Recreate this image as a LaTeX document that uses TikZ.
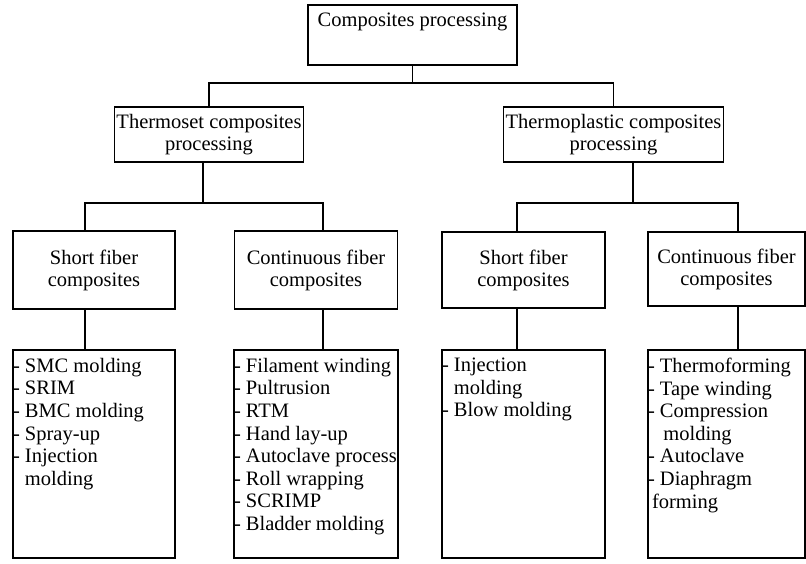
\documentclass[tikz,border=0pt]{standalone}
\usepackage{fontspec}
\setmainfont{Liberation Serif}
\usetikzlibrary{positioning}

\begin{document}
\begin{tikzpicture}[x=1pt,y=-1pt,line width=1.1pt,
	box/.style={draw,align=center,inner sep=2pt,font=\fontsize{20.5}{22}\selectfont},
	items/.style={align=left,inner sep=0pt,anchor=north west,font=\fontsize{20.5}{22.6}\selectfont}]

	\useasboundingbox (0,0) rectangle (806,563);

	% top levels
	\node[box,minimum width=209pt,minimum height=60pt] (root) at (412.5,35) {Composites processing\\[8pt] \mbox{}};
	\node[box,minimum width=188pt,minimum height=55pt] (thermoset) at (209,134.5) {Thermoset composites\\processing};
	\node[box,minimum width=193pt,minimum height=55pt] (thermoplastic) at (613.5,134.5) {Thermoplastic composites\\processing};

	\coordinate (topbar) at (412.5,83);
	\draw (root.south) -- (topbar);
	\draw (thermoset.north) |- (topbar) -| (thermoplastic.north);

	% fiber types
	\node[box,minimum width=162pt,minimum height=78pt] (tsshort) at (94,270) {Short fiber\\composites};
	\node[box,minimum width=163pt,minimum height=78pt] (tscont) at (316,270) {Continuous fiber\\composites};
	\node[box,minimum width=163pt,minimum height=76pt] (tpshort) at (523.5,270) {Short fiber\\composites};
	\node[box,minimum width=157pt,minimum height=74pt] (tpcont) at (726.5,269) {Continuous fiber\\composites};

	\coordinate (tsbar) at (203,203);
	\coordinate (tpbar) at (633,203);
	\draw ([xshift=-6pt]thermoset.south) -- (tsbar);
	\draw ([xshift=-9pt]tsshort.north) |- (tsbar) -| ([xshift=7pt]tscont.north);
	\draw ([xshift=19.5pt]thermoplastic.south) -- (tpbar);
	\draw ([xshift=-6.5pt]tpshort.north) |- (tpbar) -| ([xshift=11.5pt]tpcont.north);

	% process lists
	\node[draw,minimum width=162pt,minimum height=208pt] (tsshortlist) at (94,454) {};
	\node[draw,minimum width=164pt,minimum height=208pt] (tscontlist) at (316,454) {};
	\node[draw,minimum width=163pt,minimum height=208pt] (tpshortlist) at (523.5,454) {};
	\node[draw,minimum width=157pt,minimum height=208pt] (tpcontlist) at (726.5,454) {};

	\draw ([xshift=-9pt]tsshort.south) -- ([xshift=-9pt]tsshortlist.north);
	\draw ([xshift=7pt]tscont.south) -- ([xshift=7pt]tscontlist.north);
	\draw ([xshift=-6.5pt]tpshort.south) -- ([xshift=-6.5pt]tpshortlist.north);
	\draw ([xshift=11.5pt]tpcont.south) -- ([xshift=11.5pt]tpcontlist.north);

	\node[items,below right=8pt and 0pt of tsshortlist.north west] (tsshortitems)
		{- SMC molding\\- SRIM\\- BMC molding\\- Spray-up\\- Injection\\\hphantom{- }molding};
	\node[items,below right=8pt and 0pt of tscontlist.north west] (tscontitems)
		{- Filament winding\\- Pultrusion\\- RTM\\- Hand lay-up\\- Autoclave process\\- Roll wrapping\\- SCRIMP\\- Bladder molding};
	\node[items,below right=8pt and 0pt of tpshortlist.north west] (tpshortitems)
		{- Injection\\\hphantom{- }molding\\- Blow molding};
	\node[items,below right=8pt and 0pt of tpcontlist.north west] (tpcontitems)
		{- Thermoforming\\- Tape winding\\- Compression\\\hphantom{- }\,molding\\- Autoclave\\- Diaphragm\\\hspace*{4pt}forming};

\end{tikzpicture}
\end{document}
